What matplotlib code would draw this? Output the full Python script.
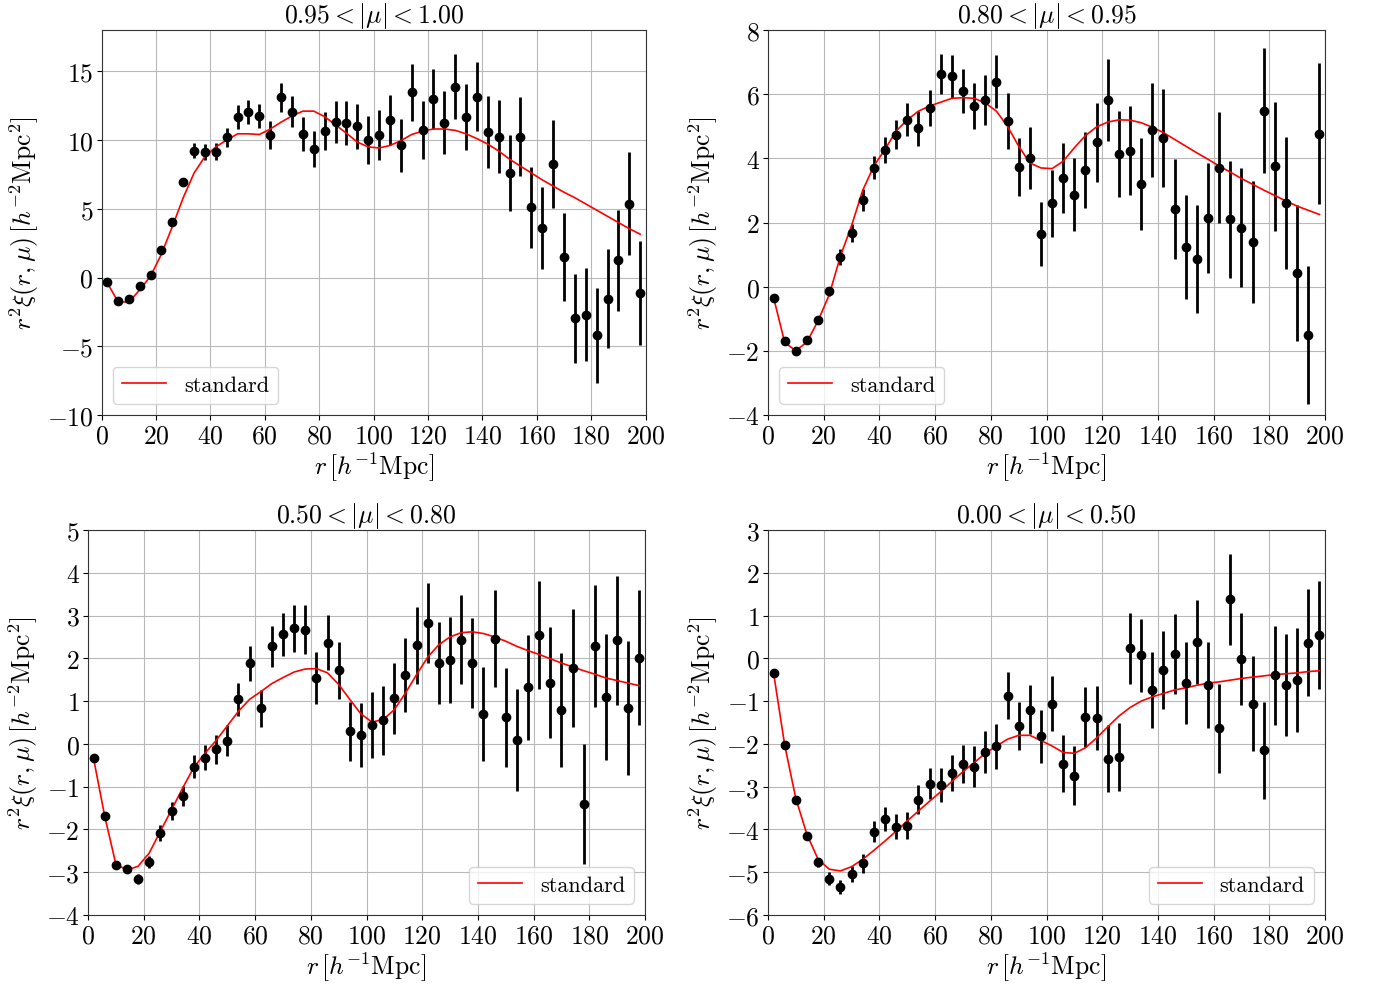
import matplotlib
matplotlib.use("Agg")
import matplotlib.pyplot as plt
import numpy as np

plt.rcParams['font.family'] = 'serif'
plt.rcParams['font.serif'] = ['cmr10', 'DejaVu Serif']
plt.rcParams['mathtext.fontset'] = 'cm'
plt.rcParams['axes.formatter.use_mathtext'] = True
plt.rcParams['axes.unicode_minus'] = True

r = [2, 6, 10, 14, 18, 22, 26, 30, 34, 38, 42, 46, 50, 54, 58, 62, 66, 70, 74, 78,
     82, 86, 90, 94, 98, 102, 106, 110, 114, 118, 122, 126, 130, 134, 138, 142, 146,
     150, 154, 158, 162, 166, 170, 174, 178, 182, 186, 190, 194, 198]

titles = [r'$0.95<|\mu|<1.00$', r'$0.80<|\mu|<0.95$',
          r'$0.50<|\mu|<0.80$', r'$0.00<|\mu|<0.50$']

xi1 = [-0.36, -1.73, -1.53, -0.63, 0.15, 1.97, 4.03, 6.94, 9.22, 9.13, 9.13, 10.2, 11.67,
       12.04, 11.75, 10.36, 13.11, 12.06, 10.41, 9.34, 10.65, 11.31, 11.21, 11.0, 10.0,
       10.36, 11.46, 9.61, 13.47, 10.75, 12.99, 11.26, 13.88, 11.7, 13.15, 10.58, 10.24,
       7.62, 10.24, 5.12, 3.59, 8.27, 1.48, -2.96, -2.7, -4.2, -1.53, 1.26, 5.36, -1.12]
err1 = [0.12, 0.12, 0.13, 0.15, 0.18, 0.2, 0.25, 0.3, 0.56, 0.6, 0.62, 0.7, 0.85, 0.9, 0.9,
        1.0, 1.07, 1.15, 1.24, 1.33, 1.4, 1.5, 1.6, 1.65, 1.75, 1.85, 1.82, 1.94, 2.06, 2.1,
        2.17, 2.3, 2.37, 2.4, 2.5, 2.6, 2.67, 2.75, 2.88, 2.94, 3.0, 3.18, 3.2, 3.25, 3.4,
        3.46, 3.57, 3.67, 3.74, 3.79]
model1 = [-0.36, -1.75, -1.8, -0.9, 0.1, 1.7, 3.7, 5.8, 7.6, 8.8, 9.5, 10.0, 10.45, 10.45,
          10.4, 10.8, 11.3, 11.75, 12.1, 12.1, 11.7, 11.1, 10.5, 9.85, 9.5, 9.42, 9.6, 9.95,
          10.4, 10.65, 10.8, 10.8, 10.7, 10.45, 10.1, 9.7, 9.2, 8.6, 8.1, 7.6, 7.1, 6.65,
          6.2, 5.8, 5.35, 4.9, 4.45, 4.0, 3.55, 3.15]

xi2 = [-0.34, -1.69, -1.99, -1.66, -1.03, -0.15, 0.92, 1.67, 2.70, 3.71, 4.27, 4.74, 5.21,
       4.93, 5.56, 6.64, 6.56, 6.11, 5.63, 5.83, 6.39, 5.17, 3.73, 4.01, 1.64, 2.6, 3.38,
       2.87, 3.63, 4.5, 5.83, 4.13, 4.24, 3.2, 4.88, 4.64, 2.42, 1.23, 0.85, 2.13, 3.71,
       2.1, 1.84, 1.38, 5.48, 3.75, 2.6, 0.43, -1.52, 4.77]
err2 = [0.05, 0.06, 0.07, 0.08, 0.1, 0.15, 0.24, 0.28, 0.34, 0.36, 0.4, 0.45, 0.5, 0.53,
        0.56, 0.62, 0.67, 0.69, 0.73, 0.78, 0.82, 0.88, 0.91, 0.97, 1.0, 1.05, 1.09, 1.13,
        1.19, 1.23, 1.28, 1.34, 1.38, 1.43, 1.47, 1.52, 1.57, 1.62, 1.68, 1.71, 1.74, 1.83,
        1.85, 1.9, 1.95, 2.0, 2.06, 2.11, 2.15, 2.2]
model2 = [-0.34, -1.74, -2.0, -1.72, -1.06, -0.25, 0.95, 1.9, 3.0, 3.76, 4.28, 4.85, 5.2,
          5.47, 5.63, 5.75, 5.87, 5.89, 5.87, 5.73, 5.47, 5.0, 4.38, 3.86, 3.7, 3.68, 3.91,
          4.33, 4.71, 4.98, 5.13, 5.2, 5.19, 5.11, 4.97, 4.8, 4.59, 4.38, 4.17, 3.97, 3.76,
          3.57, 3.37, 3.19, 3.01, 2.84, 2.67, 2.51, 2.38, 2.25]

xi3 = [-0.34, -1.69, -2.83, -2.92, -3.16, -2.76, -2.09, -1.56, -1.22, -0.53, -0.32, -0.13,
       0.07, 1.04, 1.89, 0.83, 2.28, 2.56, 2.70, 2.67, 1.54, 2.37, 1.72, 0.30, 0.21, 0.45,
       0.55, 1.07, 1.61, 2.31, 2.82, 1.89, 1.96, 2.44, 1.89, 0.70, 2.46, 0.62, 0.1, 1.32,
       2.54, 1.43, 0.79, 1.77, -1.41, 2.29, 1.09, 2.42, 0.84, 2.01]
err3 = [0.05, 0.06, 0.08, 0.1, 0.12, 0.15, 0.19, 0.21, 0.23, 0.26, 0.29, 0.33, 0.36, 0.39,
        0.41, 0.44, 0.48, 0.51, 0.55, 0.58, 0.61, 0.65, 0.67, 0.69, 0.74, 0.77, 0.81, 0.83,
        0.87, 0.9, 0.93, 0.96, 1.0, 1.04, 1.06, 1.1, 1.13, 1.16, 1.19, 1.23, 1.26, 1.3,
        1.34, 1.38, 1.4, 1.43, 1.47, 1.51, 1.56, 1.58]
model3 = [-0.34, -1.69, -2.81, -2.95, -2.86, -2.55, -2.04, -1.54, -1.03, -0.55, -0.22, 0.08,
          0.42, 0.76, 1.04, 1.22, 1.41, 1.55, 1.68, 1.75, 1.76, 1.66, 1.39, 1.04, 0.7, 0.51,
          0.57, 0.8, 1.19, 1.62, 2.03, 2.32, 2.5, 2.6, 2.62, 2.58, 2.5, 2.4, 2.28, 2.18,
          2.09, 1.99, 1.89, 1.8, 1.71, 1.63, 1.54, 1.48, 1.42, 1.36]

xi4 = [-0.34, -2.03, -3.3, -4.15, -4.77, -5.15, -5.35, -5.04, -4.79, -4.05, -3.76, -3.94,
       -3.91, -3.3, -2.93, -2.96, -2.67, -2.47, -2.53, -2.2, -2.06, -0.87, -1.58, -1.2,
       -1.82, -1.06, -2.46, -2.74, -1.37, -1.39, -2.35, -2.31, 0.23, 0.07, -0.74, -0.27,
       0.1, -0.57, 0.38, -0.62, -1.64, 1.38, -0.02, -1.06, -2.15, -0.4, -0.63, -0.51,
       0.37, 0.55]
err4 = [0.04, 0.05, 0.06, 0.07, 0.11, 0.15, 0.17, 0.19, 0.22, 0.25, 0.28, 0.29, 0.32, 0.33,
        0.36, 0.4, 0.42, 0.44, 0.47, 0.49, 0.52, 0.55, 0.56, 0.58, 0.62, 0.65, 0.67, 0.7,
        0.71, 0.75, 0.78, 0.8, 0.83, 0.86, 0.88, 0.91, 0.93, 0.96, 0.99, 1.0, 1.03, 1.06,
        1.08, 1.11, 1.14, 1.16, 1.19, 1.22, 1.24, 1.26]
model4 = [-0.34, -2.03, -3.28, -4.12, -4.7, -4.93, -4.97, -4.87, -4.7, -4.49, -4.27, -4.04,
          -3.8, -3.57, -3.34, -3.12, -2.88, -2.65, -2.44, -2.22, -2.05, -1.89, -1.8, -1.8,
          -1.92, -2.05, -2.2, -2.22, -2.09, -1.86, -1.6, -1.35, -1.15, -1.0, -0.9, -0.82,
          -0.74, -0.69, -0.63, -0.58, -0.55, -0.51, -0.47, -0.44, -0.41, -0.38, -0.36,
          -0.34, -0.31, -0.29]

panels = [
    (xi1, err1, model1, (-10, 18), [-10, -5, 0, 5, 10, 15], 'lower left'),
    (xi2, err2, model2, (-4, 8), [-4, -2, 0, 2, 4, 6, 8], 'lower left'),
    (xi3, err3, model3, (-4, 5), [-4, -3, -2, -1, 0, 1, 2, 3, 4, 5], 'lower right'),
    (xi4, err4, model4, (-6, 3), [-6, -5, -4, -3, -2, -1, 0, 1, 2, 3], 'lower right'),
]

W, H = 1373, 987
boxes = [
    (101.6, 31, 645.6, 416),
    (768, 31, 1325, 416),
    (88, 531, 645, 916),
    (768, 531, 1325, 916),
]

fig = plt.figure(figsize=(W / 100, H / 100), dpi=100)
FS = 18.5
for i, (xi, err, model, ylim, yt, loc) in enumerate(panels):
    x0, y0, x1, y1 = boxes[i]
    ax = fig.add_axes([x0 / W, 1 - y1 / H, (x1 - x0) / W, (y1 - y0) / H])
    ax.grid(True, color='#b8b8b8', linewidth=0.8)
    ax.set_axisbelow(True)
    ax.errorbar(r, xi, yerr=err, fmt='o', color='black', ms=6, elinewidth=2.0, capsize=0)
    ax.plot(r, model, color='red', lw=1.2, label='standard')
    ax.set_xlim(0, 200)
    ax.set_ylim(*ylim)
    ax.set_xticks([0, 20, 40, 60, 80, 100, 120, 140, 160, 180, 200])
    ax.set_yticks(yt)
    ax.tick_params(labelsize=FS, pad=2.5)
    for s in ax.spines.values():
        s.set_color('#333333')
    ax.set_title(titles[i], fontsize=FS, pad=4)
    ax.set_xlabel(r'$r\,[h^{-1}{\rm Mpc}]$', fontsize=FS, labelpad=2)
    ax.set_ylabel(r'$r^2\xi(r,\mu)\,[h^{-2}{\rm Mpc}^2]$', fontsize=FS)
    ax.legend(loc=loc, fontsize=16)

fig.savefig('out.png', dpi=100)
